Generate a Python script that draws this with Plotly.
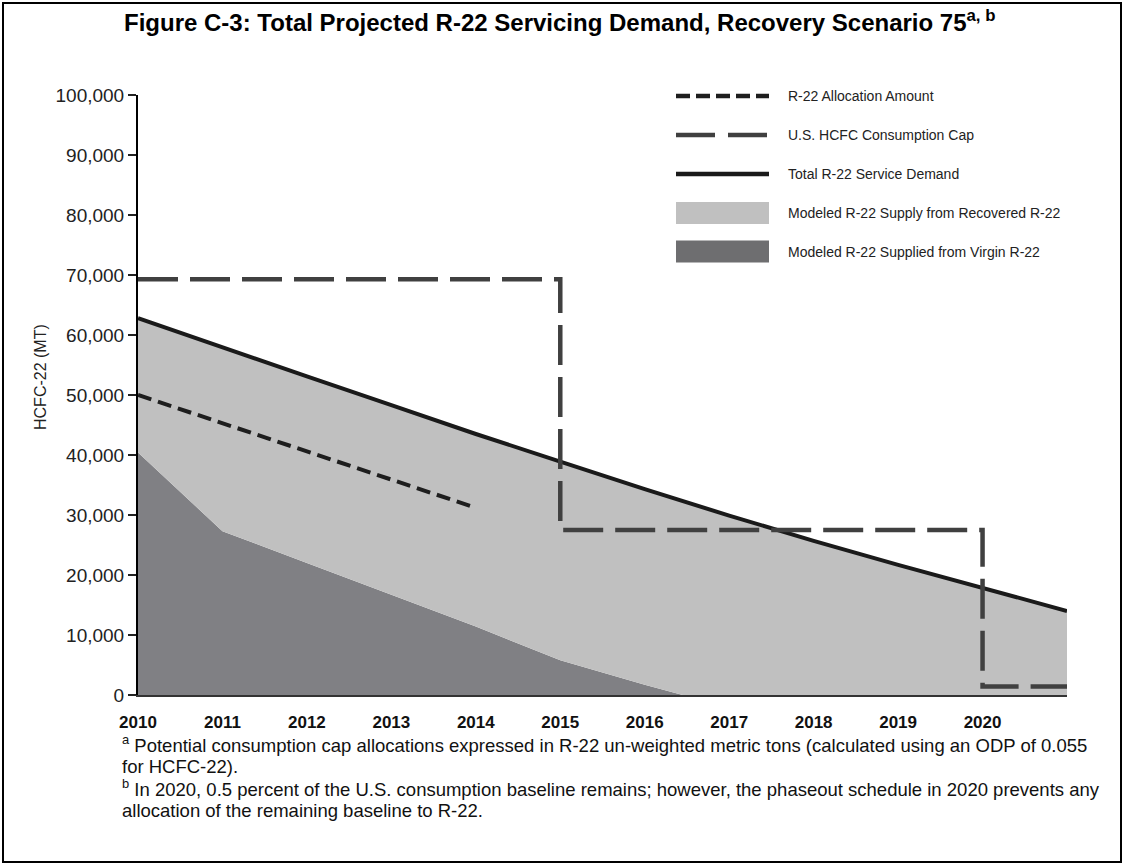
import plotly.graph_objects as go

# ── Data (metric tons of HCFC-22) ───────────────────────────────────────────
years = [2010, 2011, 2012, 2013, 2014, 2015, 2016, 2017, 2018, 2019, 2020, 2021]
demand = [62800, 57900, 53100, 48300, 43500, 38900, 34300, 29900, 25700, 21700, 17900, 14000]

virgin_years = [2010, 2011, 2012, 2013, 2014, 2015, 2016, 2016.45, 2017, 2018, 2019, 2020, 2021]
virgin = [40400, 27300, 22000, 16700, 11400, 5800, 1700, 0, 0, 0, 0, 0, 0]

alloc_years = [2010, 2011, 2012, 2013, 2014]
allocation = [50000, 45300, 40600, 35900, 31200]

cap_years = [2010, 2015, 2020, 2021]
cap = [69300, 27500, 1400, 1400]

legend_labels = [
    "R-22 Allocation Amount",
    "U.S. HCFC Consumption Cap",
    "Total R-22 Service Demand",
    "Modeled R-22 Supply from Recovered R-22",
    "Modeled R-22 Supplied from Virgin R-22",
]

footnotes = [
    "<sup>a</sup> Potential consumption cap allocations expressed in R-22 un-weighted metric tons (calculated using an ODP of 0.055",
    "for HCFC-22).",
    "<sup>b</sup> In 2020, 0.5 percent of the U.S. consumption baseline remains; however, the phaseout schedule in 2020 prevents any",
    "allocation of the remaining baseline to R-22.",
]

# ── Styling ────────────────────────────────────────────────────────────────
FONT = "Liberation Sans, Arial, sans-serif"
C_RECOVERED = "#c0c0c0"
C_VIRGIN = "#808084"
C_DEMAND = "#1a1a1a"
C_ALLOC = "#1e1e1e"
C_CAP = "#404040"
DASH_ALLOC = "14px,7px"
DASH_CAP = "40px,12px"

W, H = 1124, 865
M_L, M_R, M_T, M_B = 138, 57, 95, 170
PW, PH = W - M_L - M_R, H - M_T - M_B


def px(x):
    return (x - M_L) / PW


def py(y):
    return (H - M_B - y) / PH


fig = go.Figure()

# virgin supply (dark area)
fig.add_trace(go.Scatter(
    x=virgin_years, y=virgin, mode="lines", fill="tozeroy",
    fillcolor=C_VIRGIN, line=dict(width=0, color=C_VIRGIN),
    name=legend_labels[4], hoverinfo="skip",
))
# recovered supply (light area between virgin and demand)
fig.add_trace(go.Scatter(
    x=years, y=demand, mode="lines", fill="tonexty",
    fillcolor=C_RECOVERED, line=dict(width=0, color=C_RECOVERED),
    name=legend_labels[3], hoverinfo="skip",
))
# total demand
fig.add_trace(go.Scatter(
    x=years, y=demand, mode="lines",
    line=dict(color=C_DEMAND, width=4),
    name=legend_labels[2],
))
# allocation amount
fig.add_trace(go.Scatter(
    x=alloc_years, y=allocation, mode="lines",
    line=dict(color=C_ALLOC, width=4, dash=DASH_ALLOC),
    name=legend_labels[0],
))
# consumption cap (step)
fig.add_trace(go.Scatter(
    x=cap_years, y=cap, mode="lines", line_shape="hv",
    line=dict(color=C_CAP, width=4.5, dash=DASH_CAP),
    name=legend_labels[1],
))

# ── Hand-drawn legend (wide samples like the original) ─────────────────────
rows_y = [96, 135, 174, 213, 251.5]
sx0, sx1, tx = 676, 769, 786
sample_styles = [
    dict(kind="line", color=C_ALLOC, dash="14px,6px"),
    dict(kind="line", color=C_CAP, dash="39px,13px"),
    dict(kind="line", color=C_DEMAND, dash="solid"),
    dict(kind="box", color=C_RECOVERED),
    dict(kind="box", color="#6e6e70"),
]
for ry, style, label in zip(rows_y, sample_styles, legend_labels):
    if style["kind"] == "line":
        fig.add_shape(
            type="line", xref="paper", yref="paper",
            x0=px(sx0), x1=px(sx1), y0=py(ry), y1=py(ry),
            line=dict(color=style["color"], width=4.5, dash=style["dash"]),
        )
    else:
        fig.add_shape(
            type="rect", xref="paper", yref="paper",
            x0=px(sx0), x1=px(sx1), y0=py(ry - 11), y1=py(ry + 11),
            line=dict(width=0), fillcolor=style["color"],
        )
    fig.add_annotation(
        x=px(tx), y=py(ry), xref="paper", yref="paper",
        text=label, showarrow=False, xanchor="left", yanchor="middle",
        font=dict(family=FONT, size=14, color="#222"),
    )

# ── Footnotes ──────────────────────────────────────────────────────────────
for i, note in enumerate(footnotes):
    fig.add_annotation(
        x=px(120), y=py(744 + 22 * i), xref="paper", yref="paper",
        text=note, showarrow=False, xanchor="left", yanchor="middle",
        font=dict(family=FONT, size=18.5, color="#111"),
    )

# y-axis title
fig.add_annotation(
    x=px(40), y=py(377), xref="paper", yref="paper",
    text="HCFC-22 (MT)", showarrow=False, textangle=-90,
    xanchor="center", yanchor="middle",
    font=dict(family=FONT, size=16, color="#222"),
)

# outer frame
fig.add_shape(
    type="rect", xref="paper", yref="paper",
    x0=px(3), x1=px(1121), y0=py(862), y1=py(3),
    line=dict(color="black", width=2),
)

fig.update_layout(
    width=W, height=H,
    margin=dict(l=M_L, r=M_R, t=M_T, b=M_B, autoexpand=False),
    paper_bgcolor="white", plot_bgcolor="white",
    showlegend=False,
    font=dict(family=FONT, color="#222"),
    title=dict(
        text="Figure C-3: Total Projected R-22 Servicing Demand, Recovery Scenario 75<sup>a, b</sup>",
        x=0.498, xref="container", xanchor="center",
        y=1 - 23 / H, yref="container", yanchor="middle",
        font=dict(family=FONT, size=24, color="black", weight="bold"),
    ),
    xaxis=dict(
        range=[2010, 2021], tickmode="array",
        tickvals=years[:-1], ticktext=[str(y) for y in years[:-1]],
        showgrid=False, zeroline=False,
        showline=True, linecolor="#333", linewidth=2,
        ticks="", ticklabelstandoff=11,
        tickfont=dict(family=FONT, size=17, color="#111", weight="bold"),
    ),
    yaxis=dict(
        range=[0, 100000], tickmode="linear", tick0=0, dtick=10000,
        tickformat=",d", showgrid=False, zeroline=False,
        showline=True, linecolor="black", linewidth=2,
        ticks="outside", ticklen=8, tickwidth=2, tickcolor="#222",
        tickfont=dict(family=FONT, size=19, color="#222"),
    ),
)

fig.write_html(
    "out.html",
    config={"displayModeBar": False},
    post_script="document.documentElement.style.margin='0';"
    "document.body.style.margin='0';document.body.style.overflow='hidden';",
)
